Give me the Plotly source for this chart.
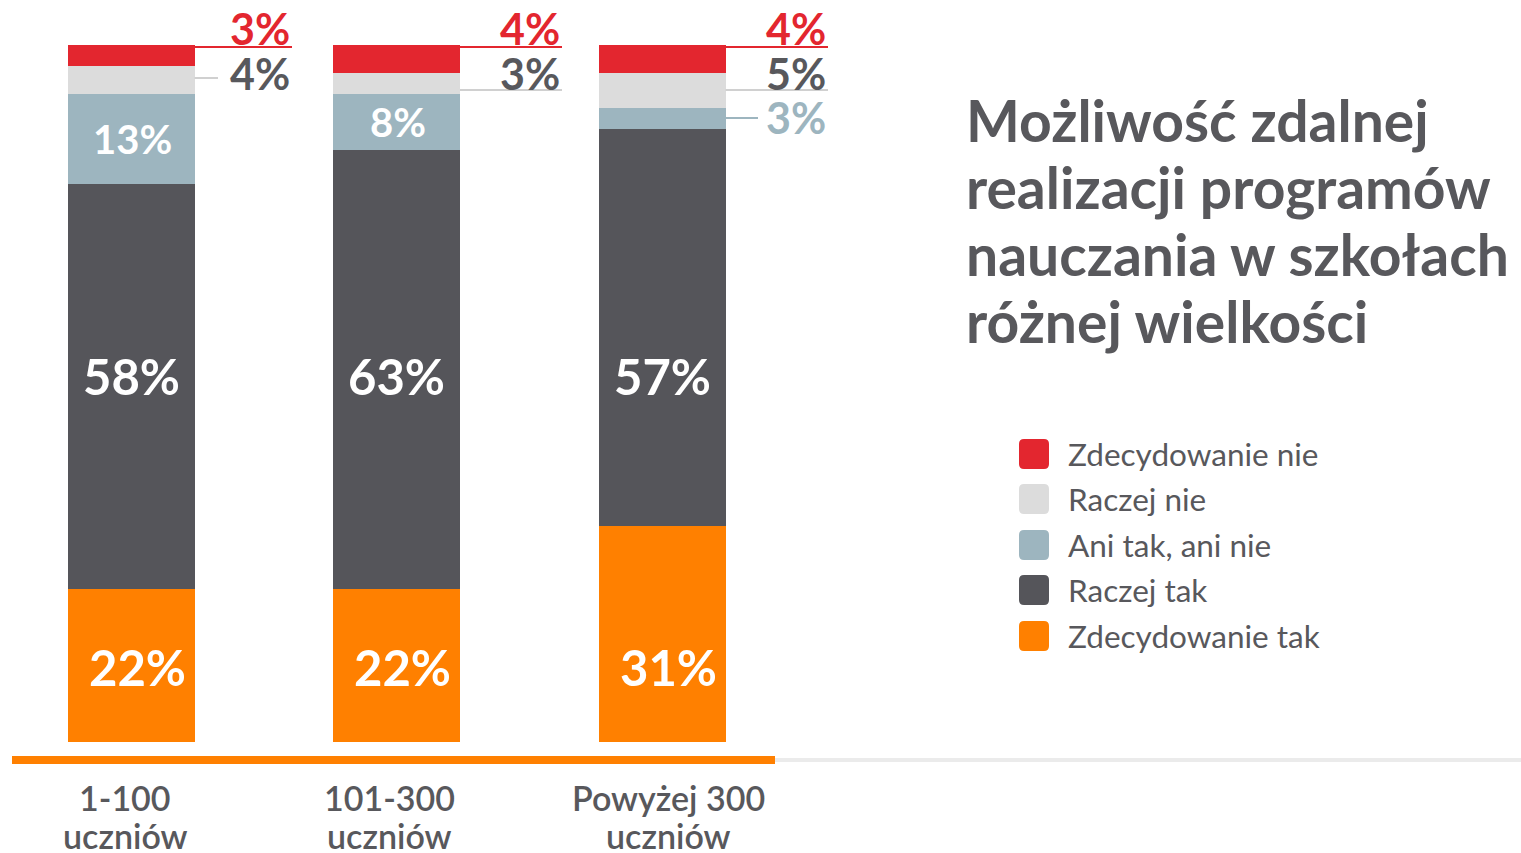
import plotly.graph_objects as go

# ---------------- data ----------------
categories = ["1-100<br>uczniów", "101-300<br>uczniów", "Powyżej 300<br>uczniów"]
series_names = ["Zdecydowanie tak", "Raczej tak", "Ani tak, ani nie", "Raczej nie", "Zdecydowanie nie"]
zdecydowanie_tak = [22, 22, 31]
raczej_tak = [58, 63, 57]
ani_tak_ani_nie = [13, 8, 3]
raczej_nie = [4, 3, 5]
zdecydowanie_nie = [3, 4, 4]
title_lines = ["Możliwość zdalnej", "realizacji programów", "nauczania w szkołach", "różnej wielkości"]

series_values = [zdecydowanie_tak, raczej_tak, ani_tak_ani_nie, raczej_nie, zdecydowanie_nie]
colors = ["#FF8000", "#55555A", "#9DB5BF", "#DCDCDC", "#E3262F"]
label_colors = ["#FFFFFF", "#FFFFFF", "#9DB5BF", "#58585C", "#E3262F"]

# body margin is removed by the post script, so the figure fills the window
OFF = 0
W, H = 1521, 853
FONT = "Lato"
GREY_TXT = "#58585C"

# reference-pixel <-> data mapping (layout)
PX_PER_X = 265.5
X0_PX = 131
PX_PER_Y = 6.97
Y0_PX = 742


def dx(px):
    return (px - X0_PX) / PX_PER_X


def dy(py):
    return (Y0_PX - py) / PX_PER_Y


def PX(px):
    return (px - OFF) / W


def PY(py):
    return 1 - (py - OFF) / H


xs = [0, 1, 2]
bar_w = 127 / PX_PER_X

fig = go.Figure()
for si, (name, vals) in enumerate(zip(series_names, series_values)):
    fig.add_trace(go.Bar(
        x=xs, y=vals, name=name, width=bar_w,
        marker=dict(color=colors[si], line=dict(width=0)),
        hoverinfo="skip", showlegend=False,
    ))

shapes = []
annotations = []

# inside labels (big series at fixed rows, middle series centred in its segment)
fixed_rows = {0: 667, 1: 376}
x_shift = {0: 6, 1: 0, 2: 1}
for si in range(3):
    for b in xs:
        v = series_values[si][b]
        if v < 8:
            continue
        base = sum(series_values[k][b] for k in range(si))
        yv = dy(fixed_rows[si]) if si in fixed_rows else base + v / 2
        annotations.append(dict(xref="x", yref="y", x=b, y=yv, xshift=x_shift[si],
                                text=f"{v}%", showarrow=False,
                                xanchor="center", yanchor="middle",
                                font=dict(family=FONT, size=49 if v >= 20 else 40,
                                          color="#FFFFFF", weight=700)))

# outside callouts: (bar, series index, text center py, line py, line end px)
text_right_px = [292, 562, 828]
callouts = [
    (0, 4, 28, 47, 292), (0, 3, 73, 78, 218),
    (1, 4, 28, 47, 562), (1, 3, 73, 90, 562),
    (2, 4, 28, 47, 828), (2, 3, 73, 90, 828), (2, 2, 117, 118, 758),
]
line_colors = {4: "#E3262F", 3: "#D0D0D0", 2: "#9DB5BF"}
for b, si, tpy, lpy, lend in callouts:
    v = series_values[si][b]
    bar_center_px = X0_PX + PX_PER_X * b
    bar_right = b + bar_w / 2
    shapes.append(dict(type="line", xref="x", yref="y",
                       x0=bar_right, x1=bar_right + (lend - (bar_center_px + 63.5)) / PX_PER_X,
                       y0=dy(lpy), y1=dy(lpy),
                       line=dict(color=line_colors[si], width=2)))
    annotations.append(dict(xref="x", yref="y",
                            x=b + (text_right_px[b] - bar_center_px) / PX_PER_X,
                            y=dy(tpy), xanchor="right", yanchor="middle",
                            text=f"{v}%", showarrow=False,
                            font=dict(family=FONT, size=43, color=label_colors[si], weight=700)))

# baseline lines
shapes.append(dict(type="line", xref="paper", yref="paper", x0=PX(775), x1=1.0,
                   y0=PY(760), y1=PY(760), line=dict(color="#EBEBEB", width=4)))
shapes.append(dict(type="line", xref="paper", yref="paper", x0=PX(12), x1=PX(775),
                   y0=PY(760), y1=PY(760), line=dict(color="#FF8000", width=8)))

# category labels (two lines each, tight pitch)
cat_shift = [-6, -7, 6]
for b, cat in enumerate(categories):
    for li, part in enumerate(cat.split("<br>")):
        annotations.append(dict(xref="x", yref="paper", x=b, y=PY(797 + 38 * li),
                                xshift=cat_shift[b], xanchor="center", yanchor="middle",
                                text=part, showarrow=False,
                                font=dict(family=FONT, size=34, color=GREY_TXT, weight=600)))

# title, one annotation per line for tight line pitch
for i, line in enumerate(title_lines):
    annotations.append(dict(xref="paper", yref="paper", x=PX(964), y=PY(120 + 67 * i),
                            xanchor="left", yanchor="middle", align="left", showarrow=False,
                            text=line,
                            font=dict(family=FONT, size=57, color=GREY_TXT, weight=700)))

# custom legend
legend_rows = [454, 499, 545, 590, 636]
legend_order = [4, 3, 2, 1, 0]


def rounded_rect(x0p, y0p, x1p, y1p, r):
    return (f"M {PX(x0p + r)} {PY(y0p)} L {PX(x1p - r)} {PY(y0p)} "
            f"Q {PX(x1p)} {PY(y0p)} {PX(x1p)} {PY(y0p + r)} "
            f"L {PX(x1p)} {PY(y1p - r)} Q {PX(x1p)} {PY(y1p)} {PX(x1p - r)} {PY(y1p)} "
            f"L {PX(x0p + r)} {PY(y1p)} Q {PX(x0p)} {PY(y1p)} {PX(x0p)} {PY(y1p - r)} "
            f"L {PX(x0p)} {PY(y0p + r)} Q {PX(x0p)} {PY(y0p)} {PX(x0p + r)} {PY(y0p)} Z")


for row_py, si in zip(legend_rows, legend_order):
    shapes.append(dict(type="path", xref="paper", yref="paper",
                       path=rounded_rect(1019, row_py - 15, 1049, row_py + 15, 5),
                       fillcolor=colors[si], line=dict(width=0)))
    annotations.append(dict(xref="paper", yref="paper", x=PX(1066), y=PY(row_py),
                            xanchor="left", yanchor="middle", showarrow=False,
                            text=series_names[si],
                            font=dict(family=FONT, size=31.5, color=GREY_TXT)))

fig.update_layout(
    width=W, height=H,
    barmode="stack", bargap=0,
    plot_bgcolor="white", paper_bgcolor="white",
    margin=dict(l=0, r=0, t=0, b=0),
    showlegend=False,
    shapes=shapes, annotations=annotations,
    xaxis=dict(range=[dx(OFF), dx(OFF + W)], domain=[0, 1], showgrid=False, zeroline=False,
               showline=False, showticklabels=False, ticks=""),
    yaxis=dict(range=[dy(760), dy(OFF)], domain=[PY(760), 1], showgrid=False,
               zeroline=False, showline=False, showticklabels=False, ticks=""),
)

fig.write_html("out.html", config={"displayModeBar": False},
               post_script="document.body.style.margin='0px';document.body.style.overflow='hidden';")
